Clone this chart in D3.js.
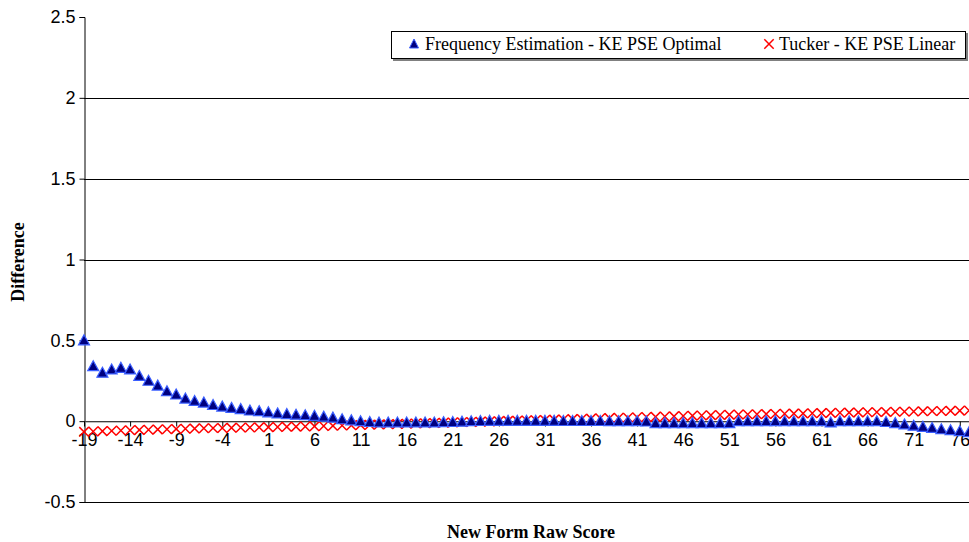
<!DOCTYPE html>
<html><head><meta charset="utf-8">
<script src="https://cdn.jsdelivr.net/npm/d3@7"></script>
<style>body{margin:0;background:#fff}svg{display:block}</style>
</head><body>
<svg id="chart" width="969" height="542"></svg>
<script>
// Categories: New Form Raw Score -19 .. 77
const scores = d3.range(-19, 78);
const yTicks = [-0.5, 0, 0.5, 1, 1.5, 2, 2.5];
const xTickLabels = [-19, -14, -9, -4, 1, 6, 11, 16, 21, 26, 31, 36, 41, 46, 51, 56, 61, 66, 71, 76];
const seriesNames = ["Frequency Estimation - KE PSE Optimal", "Tucker - KE PSE Linear"];

const freqEst = [
  0.50, 0.34, 0.30, 0.32, 0.33,        // -19..-15
  0.32, 0.28, 0.25, 0.22, 0.185,       // -14..-10
  0.165, 0.14, 0.125, 0.115, 0.10,     // -9..-5
  0.09, 0.082, 0.075, 0.066, 0.062,    // -4..0
  0.055, 0.048, 0.044, 0.040, 0.037,   // 1..5
  0.033, 0.028, 0.022, 0.012, 0.005,   // 6..10
  0.000, -0.005, -0.008, -0.008, -0.008, // 11..15
  -0.008, -0.008, -0.008, -0.008, -0.006, // 16..20
  -0.005, -0.003, 0.000, 0.001, 0.002,  // 21..25
  0.002, 0.002, 0.002, 0.002, 0.002,    // 26..30
  0.002, 0.002, 0.001, 0.001, 0.001,    // 31..35
  0.001, 0.001, 0.000, 0.000, 0.000,    // 36..40
  0.000, -0.002, -0.012, -0.012, -0.012, // 41..45
  -0.012, -0.012, -0.012, -0.012, -0.012, // 46..50
  -0.012, 0.000, 0.000, 0.000, 0.000,   // 51..55
  0.000, 0.000, 0.000, 0.000, 0.000,    // 56..60
  0.000, -0.008, 0.000, 0.000, 0.000,   // 61..65
  0.000, 0.000, -0.005, -0.012, -0.020, // 66..70
  -0.028, -0.035, -0.042, -0.050, -0.056, // 71..75
  -0.062, -0.068                        // 76..77
];
const tucker = [
  -0.066, -0.064, -0.062, -0.060, -0.058,
  -0.056, -0.054, -0.053, -0.051, -0.050,
  -0.048, -0.047, -0.046, -0.044, -0.043,
  -0.042, -0.041, -0.040, -0.039, -0.038,
  -0.037, -0.036, -0.035, -0.034, -0.033,
  -0.032, -0.030, -0.029, -0.027, -0.026,
  -0.024, -0.022, -0.021, -0.019, -0.018,
  -0.016, -0.014, -0.013, -0.011, -0.010,
  -0.008, -0.006, -0.005, -0.003, -0.002,
  0.000, 0.002, 0.003, 0.005, 0.006,
  0.008, 0.010, 0.011, 0.013, 0.014,
  0.016, 0.018, 0.019, 0.021, 0.022,
  0.024, 0.026, 0.027, 0.029, 0.030,
  0.032, 0.034, 0.035, 0.037, 0.038,
  0.040, 0.041, 0.042, 0.043, 0.044,
  0.045, 0.046, 0.047, 0.048, 0.049,
  0.050, 0.051, 0.052, 0.053, 0.054,
  0.055, 0.056, 0.057, 0.058, 0.059,
  0.060, 0.061, 0.062, 0.063, 0.064,
  0.065, 0.066
];

const svg = d3.select("#chart");
const pLeft = 84, pRight = 969, pTop = 17, pBottom = 502;

const x = d3.scalePoint().domain(scores).range([pLeft, pRight]);
const y = d3.scaleLinear().domain([-0.5, 2.5]).range([pBottom, pTop]);

const axisFont = "Arial, 'Liberation Sans', sans-serif";
const serif = "'Liberation Serif', 'Times New Roman', serif";

// gridlines
svg.append("g").selectAll("line").data(yTicks.filter(v => v < 2.5)).join("line")
  .attr("x1", pLeft).attr("x2", pRight)
  .attr("y1", d => Math.round(y(d)) + 0.5).attr("y2", d => Math.round(y(d)) + 0.5)
  .attr("stroke", "#000").attr("stroke-width", 1);

// y axis
const yAxis = svg.append("g").attr("transform", `translate(${pLeft + 0.5},0)`)
  .call(d3.axisLeft(y).tickValues(yTicks).tickSize(5).tickPadding(4).tickFormat(d => String(d)));
yAxis.select(".domain").attr("stroke", "#000");
yAxis.selectAll(".tick line").attr("stroke", "#000");
yAxis.selectAll("text").attr("font-family", axisFont).attr("font-size", 18).attr("fill", "#000");

// x axis at zero
const xAxis = svg.append("g").attr("transform", `translate(0,${Math.round(y(0)) + 0.5})`)
  .call(d3.axisBottom(x).tickValues(xTickLabels).tickSize(5).tickPadding(7).tickSizeOuter(0));
xAxis.select(".domain").attr("stroke", "#808080");
xAxis.selectAll(".tick line").attr("stroke", "#000");
xAxis.selectAll("text").attr("font-family", axisFont).attr("font-size", 18).attr("fill", "#000");

// Tucker series (red X)
const xs = 4.7;
const crossPath = (cx, cy) => `M${cx - xs},${cy - xs}L${cx + xs},${cy + xs}M${cx - xs},${cy + xs}L${cx + xs},${cy - xs}`;
svg.append("g").selectAll("path").data(scores.map((s, i) => ({s, v: tucker[i]}))).join("path")
  .attr("d", d => crossPath(x(d.s), y(d.v)))
  .attr("stroke", "#ff0000").attr("stroke-width", 1.5).attr("fill", "none");

// Frequency estimation series (blue triangles)
const triPath = (cx, cy) => `M${cx},${cy - 5.5}L${cx + 5.5},${cy + 4.5}L${cx - 5.5},${cy + 4.5}Z`;
svg.append("g").selectAll("path").data(scores.map((s, i) => ({s, v: freqEst[i]}))).join("path")
  .attr("d", d => triPath(x(d.s), y(d.v)))
  .attr("fill", "#000080").attr("stroke", "#3a5eff").attr("stroke-width", 1.2);

// axis titles
svg.append("text").attr("x", 531).attr("y", 538).attr("text-anchor", "middle")
  .attr("font-family", serif).attr("font-weight", "bold").attr("font-size", 18)
  .text("New Form Raw Score");
svg.append("text").attr("transform", "translate(24,262) rotate(-90)").attr("text-anchor", "middle")
  .attr("font-family", serif).attr("font-weight", "bold").attr("font-size", 18)
  .text("Difference");

// legend
const lg = svg.append("g");
lg.append("rect").attr("x", 393).attr("y", 33).attr("width", 575).attr("height", 28).attr("fill", "#808080");
lg.append("rect").attr("x", 391.5).attr("y", 31.5).attr("width", 574).attr("height", 27)
  .attr("fill", "#fff").attr("stroke", "#000").attr("stroke-width", 1);
lg.append("path").attr("d", `M414,39L418.5,48L409.5,48Z`).attr("fill", "#000080").attr("stroke", "#3a5eff").attr("stroke-width", 1);
lg.append("text").attr("x", 425).attr("y", 50).attr("font-family", serif).attr("font-size", 18).text(seriesNames[0]);
lg.append("path").attr("d", crossPath(769, 44)).attr("stroke", "#ff0000").attr("stroke-width", 1.5);
lg.append("text").attr("x", 779).attr("y", 50).attr("font-family", serif).attr("font-size", 18).text(seriesNames[1]);
</script>
</body></html>
